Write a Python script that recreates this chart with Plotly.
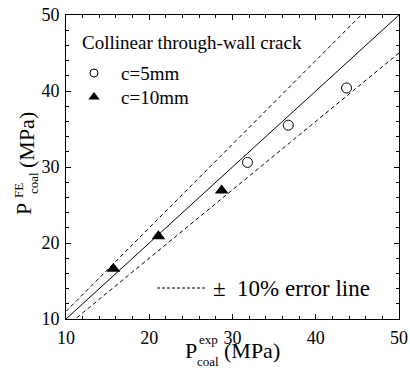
import plotly.graph_objects as go

# data
c5_x = [31.8, 36.7, 43.7]
c5_y = [30.6, 35.5, 40.4]
c10_x = [15.7, 21.1, 28.7]
c10_y = [16.6, 20.9, 26.9]
ref_x = [10, 50]
err = 0.10
axis_range = [10, 50]
tickvals = [10, 20, 30, 40, 50]

FONT = "Times New Roman"
W, H = 410, 368
L, R, T, B = 66, 11, 15, 49
PW, PH = W - L - R, H - T - B

def px(x):
    return (x - L) / PW

def py(y):
    return (H - B - y) / PH

fig = go.Figure()
fig.add_trace(go.Scatter(x=ref_x, y=ref_x, mode="lines",
                         line=dict(color="black", width=1), showlegend=False))
fig.add_trace(go.Scatter(x=ref_x, y=[v * (1 + err) for v in ref_x], mode="lines",
                         line=dict(color="black", width=1, dash="4px,3px"), showlegend=False))
fig.add_trace(go.Scatter(x=ref_x, y=[v * (1 - err) for v in ref_x], mode="lines",
                         line=dict(color="black", width=1, dash="4px,3px"), showlegend=False))
fig.add_trace(go.Scatter(x=c5_x, y=c5_y, mode="markers", showlegend=False,
                         marker=dict(symbol="circle-open", size=10, color="black", line=dict(width=1))))
fig.add_trace(go.Scatter(x=c10_x, y=c10_y, mode="markers", showlegend=False,
                         marker=dict(symbol="triangle-up", size=12, color="black")))

ax = dict(range=axis_range, tickvals=tickvals, showgrid=False, zeroline=False,
          showline=True, linecolor="black", linewidth=1, mirror="ticks",
          ticks="inside", ticklen=5, tickcolor="black", automargin=False,
          minor=dict(ticks="inside", dtick=2, ticklen=3, tickcolor="black"),
          tickfont=dict(family=FONT, size=18, color="black"))
fig.update_xaxes(**ax, ticklabelstandoff=2)
fig.update_yaxes(**ax, ticklabelstandoff=2)

ann = []
def t(text, x, y, size, angle=0, xanchor="center"):
    ann.append(dict(text=text, x=px(x), y=py(y), xref="paper", yref="paper",
                    showarrow=False, xanchor=xanchor, yanchor="middle", textangle=angle,
                    font=dict(family=FONT, size=size, color="black")))

# x title
t("P", 191, 350, 22)
t("exp", 208, 339, 13)
t("coal", 208, 361, 13)
t("(MPa)", 252, 351, 22)
# y title
t("P", 24, 209, 22, -90)
t("FE", 19, 190, 13, -90)
t("coal", 34, 183, 13, -90)
t("(MPa)", 26, 140, 22, -90)

# legend texts
t("Collinear through-wall crack", 80, 43, 19, xanchor="left")
t("c=5mm", 119, 73, 19, xanchor="left")
t("c=10mm", 119, 97, 19, xanchor="left")
t("±  10% error line", 211, 288, 23, xanchor="left")
fig.update_layout(annotations=ann, font=dict(family=FONT))

# legend markers
fig.add_trace(go.Scatter(x=[px(94)], y=[py(73)], xaxis="x2", yaxis="y2", mode="markers",
                         showlegend=False,
                         marker=dict(symbol="circle-open", size=8, color="black", line=dict(width=1))))
fig.add_trace(go.Scatter(x=[px(94)], y=[py(97)], xaxis="x2", yaxis="y2", mode="markers",
                         showlegend=False,
                         marker=dict(symbol="triangle-up", size=10, color="black")))
fig.add_trace(go.Scatter(x=[px(157), px(207)], y=[py(288), py(288)], xaxis="x2", yaxis="y2",
                         mode="lines", showlegend=False,
                         line=dict(color="black", width=1, dash="3px,2px")))
fig.update_layout(
    xaxis2=dict(range=[0, 1], overlaying="x", visible=False),
    yaxis2=dict(range=[0, 1], overlaying="y", visible=False),
)

fig.update_layout(width=W, height=H, margin=dict(l=L, r=R, t=T, b=B),
                  paper_bgcolor="white", plot_bgcolor="white", showlegend=False)
fig.write_html("out.html")
